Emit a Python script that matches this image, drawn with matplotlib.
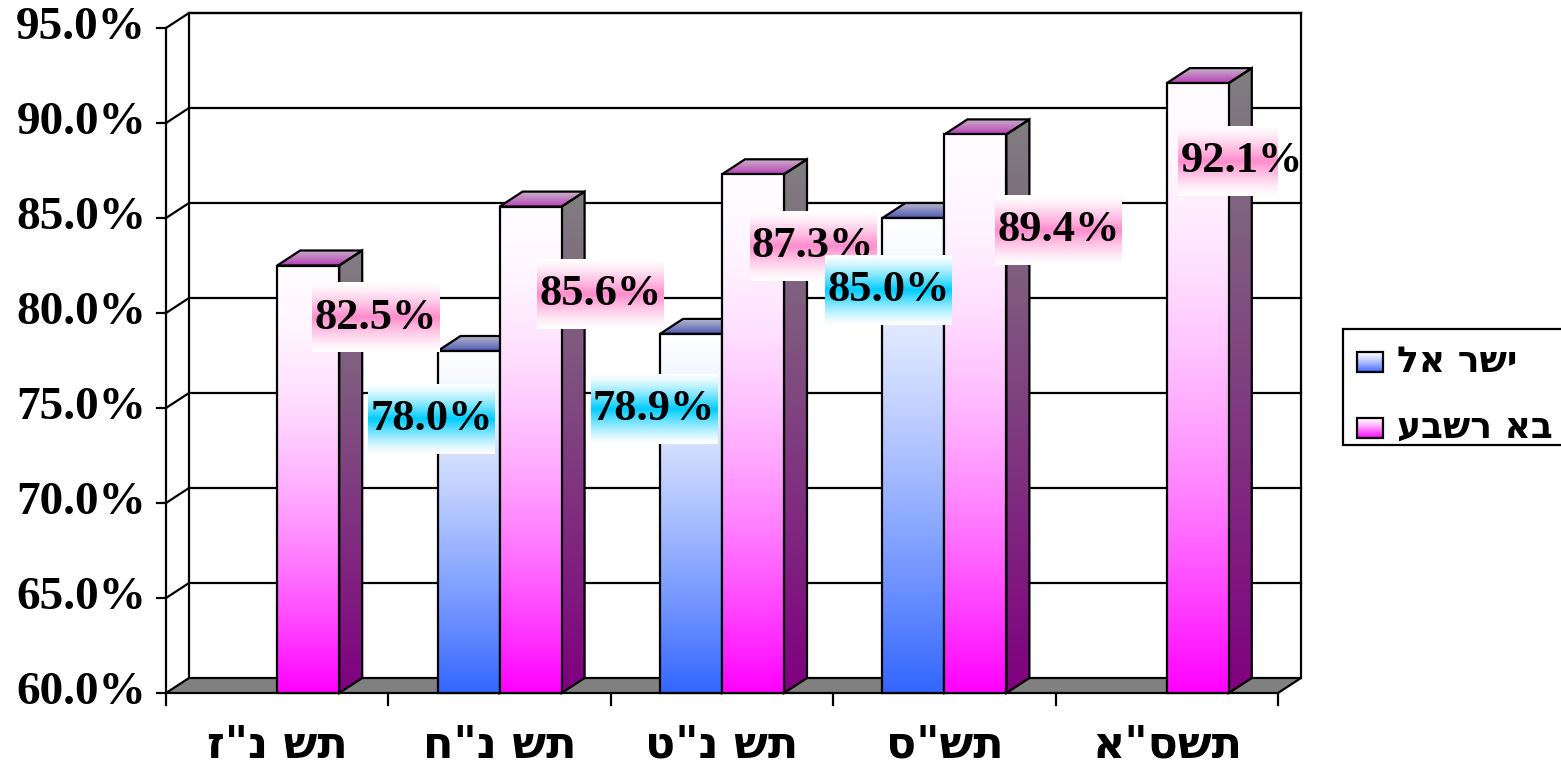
import matplotlib
matplotlib.use('Agg')
import matplotlib.pyplot as plt
import numpy as np
from matplotlib.patches import Polygon, Rectangle

# data
years = ['תש נ"ז', 'תש נ"ח', 'תש נ"ט', 'תש"ס', 'תשס"א']
series_names = ['ישר אל', 'בא רשבע']
israel = [np.nan, 78.0, 78.9, 85.0, np.nan]
beersheva = [82.5, 85.6, 87.3, 89.4, 92.1]
yticks = [60, 65, 70, 75, 80, 85, 90, 95]

# label offsets (pixels, relative to bar top centre)
lab_off_pink = [(67, 52), (70, 87), (60, 72), (83, 96), (44, 78)]
lab_off_blue = [(0, 0), (-37, 68), (-37, 75), (-25, 72), (0, 0)]

W, H = 1561, 766
fig = plt.figure(figsize=(W / 100, H / 100), dpi=100)
ax = fig.add_axes([166 / W, (H - 693) / H, (1278 - 166) / W, (693 - 28) / H])
ax.axis('off')

px_x = (1278 - 166) / 5.0
px_y = (693 - 28) / 35.0
DX = 23 / px_x
DY = 15 / px_y
BW = 62 / px_x
X0, X1, Y0, Y1 = -0.5, 4.5, 60, 95

serif = ['Liberation Serif', 'DejaVu Serif', 'DejaVu Sans']
heb = ['DejaVu Sans', 'Liberation Sans']


def vis(s):
    # the original chart shows the hebrew glyphs in left-to-right order
    return s[::-1]


def vgrad(c_top, c_bot, power=1.0, n=256):
    t = np.linspace(0, 1, n) ** power
    return ((1 - t)[:, None] * np.array(c_top) + t[:, None] * np.array(c_bot))[:, None, :]


def bandgrad(c, power=1.3, n=256):
    s = np.linspace(0, 1, n)
    t = (1 - np.abs(2 * s - 1)) ** power
    return ((1 - t)[:, None] * np.ones(3) + t[:, None] * np.array(c))[:, None, :]


def grad_poly(pts, img, z):
    pts = np.array(pts)
    poly = Polygon(pts, closed=True, transform=ax.transData)
    im = ax.imshow(img, extent=[pts[:, 0].min(), pts[:, 0].max(), pts[:, 1].min(), pts[:, 1].max()],
                   origin='upper', aspect='auto', interpolation='bilinear', zorder=z)
    im.set_clip_path(poly)
    ax.add_patch(Polygon(pts, closed=True, fill=False, edgecolor='black', lw=1.6, zorder=z + 0.1,
                         joinstyle='miter', clip_on=False))


# back wall, left wall and gridlines
lk = dict(color='black', lw=1.6, clip_on=False, zorder=1)
ax.plot([X0 + DX, X1 + DX], [Y1 + DY, Y1 + DY], **lk)
ax.plot([X1 + DX, X1 + DX], [Y0 + DY, Y1 + DY], **lk)
ax.plot([X0 + DX, X0 + DX], [Y0 + DY, Y1 + DY], **lk)
ax.plot([X0, X0], [Y0, Y1], **lk)
for v in yticks[1:]:
    ax.plot([X0, X0 + DX, X1 + DX], [v, v + DY, v + DY], **lk)

# floor
ax.add_patch(Polygon([(X0, Y0), (X1, Y0), (X1 + DX, Y0 + DY), (X0 + DX, Y0 + DY)], closed=True,
                     facecolor='#808080', edgecolor='black', lw=1.6, zorder=2, clip_on=False))

# ticks
for v in yticks:
    ax.plot([X0 - 9 / px_x, X0], [v, v], **lk)
    ax.text(X0 - 20 / px_x, v, '%.1f%%' % v, ha='right', va='center', fontsize=34,
            fontweight='bold', family=serif)
for k in range(6):
    ax.plot([X0 + k, X0 + k], [Y0, Y0 - 12 / px_y], **lk)
for i, lab in enumerate(years):
    ax.text(i, Y0 - 52 / px_y, vis(lab), ha='center', va='center', fontsize=32,
            fontweight='bold', family=heb)

styles = {
    'blue': dict(front=((1, 1, 1), (0.2, 0.4, 1.0), 1.3), side=((0.5, 0.5, 0.5), (0.1, 0.2, 0.5)),
                 top=((0.72, 0.72, 0.8), (0.3, 0.35, 0.7))),
    'pink': dict(front=((1, 0.99, 1), (1.0, 0.0, 1.0), 1.8), side=((0.5, 0.5, 0.5), (0.5, 0.0, 0.5)),
                 top=((0.78, 0.7, 0.78), (0.72, 0.25, 0.72))),
}


def bar3d(x0, v, st, z):
    x1 = x0 + BW
    ft, fb, fp = st['front']
    grad_poly([(x1, Y0), (x1 + DX, Y0 + DY), (x1 + DX, v + DY), (x1, v)], vgrad(*st['side']), z)
    grad_poly([(x0, v), (x1, v), (x1 + DX, v + DY), (x0 + DX, v + DY)], vgrad(*st['top']), z)
    grad_poly([(x0, Y0), (x1, Y0), (x1, v), (x0, v)], vgrad(ft, fb, fp), z + 0.2)


z = 3
for i in range(len(years)):
    if not np.isnan(israel[i]):
        bar3d(i - BW, israel[i], styles['blue'], z)
    z += 1
    bar3d(i, beersheva[i], styles['pink'], z)
    z += 1

# data labels
bw_lab, bh_lab = 127 / px_x, 70 / px_y


def data_label(xc, v, off, col, z):
    cx = xc + off[0] / px_x
    cy = v - off[1] / px_y
    ax.imshow(bandgrad(col), extent=[cx - bw_lab / 2, cx + bw_lab / 2, cy - bh_lab / 2, cy + bh_lab / 2],
              origin='upper', aspect='auto', interpolation='bilinear', zorder=z)
    ax.text(cx, cy, '%.1f%%' % v, ha='center', va='center', fontsize=32, fontweight='bold',
            family=serif, zorder=z + 0.1)


for i, v in enumerate(beersheva):
    data_label(i + BW / 2, v, lab_off_pink[i], (1.0, 0.55, 0.8), 30)
for i, v in enumerate(israel):
    if not np.isnan(v):
        data_label(i - BW / 2, v, lab_off_blue[i], (0.0, 0.8, 1.0), 32)

ax.set_xlim(X0, X1)
ax.set_ylim(Y0, Y1)

# legend
lax = fig.add_axes([0, 0, 1, 1], zorder=5)
lax.set_xlim(0, W)
lax.set_ylim(H, 0)
lax.axis('off')
lax.add_patch(Rectangle((1343, 329), 240, 116, facecolor='white', edgecolor='black', lw=1.6))
leg_cols = [(0.25, 0.4, 1.0), (1.0, 0.0, 1.0)]
for k, (name, col) in enumerate(zip(series_names, leg_cols)):
    yc = 362 + 66 * k
    lax.imshow(vgrad((1, 1, 1), col, 1.2), extent=[1357, 1383, yc + 10, yc - 10], origin='upper',
               aspect='auto', interpolation='bilinear', zorder=6)
    lax.add_patch(Rectangle((1357, yc - 10), 26, 20, fill=False, edgecolor='black', lw=1.6, zorder=7))
    lax.text(1397, yc, vis(name), ha='left', va='center', fontsize=26, fontweight='bold', family=heb)
lax.set_xlim(0, W)
lax.set_ylim(H, 0)

fig.savefig('out.png', dpi=100)
